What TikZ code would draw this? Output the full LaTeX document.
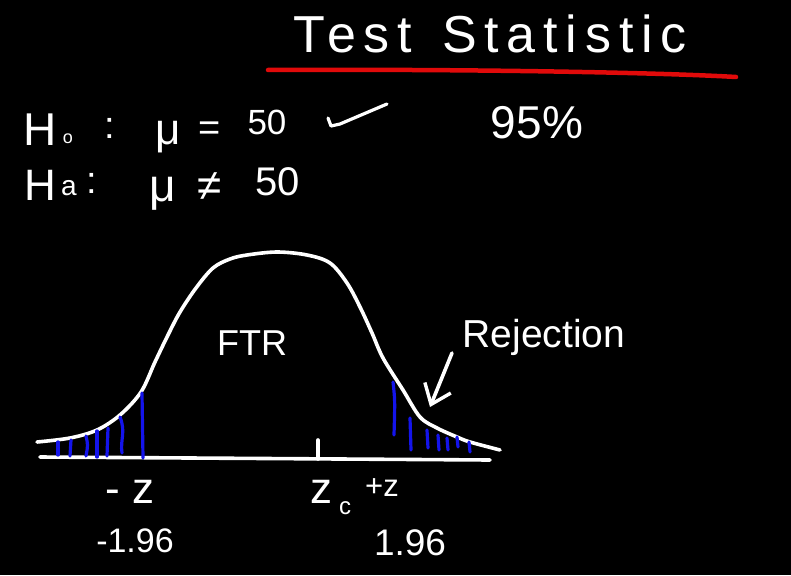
\documentclass[tikz,border=0pt]{standalone}
\usepackage{fontspec}
\setmainfont{Liberation Sans}
\usetikzlibrary{arrows.meta}
\definecolor{inkred}{RGB}{225,10,10}
\definecolor{inkblue}{RGB}{20,20,235}
\begin{document}
\begin{tikzpicture}[x=1pt,y=-1pt,
  hand/.style={text=white, inner sep=0pt, outer sep=0pt},
  chalk/.style={draw=white, line width=3.6pt, line cap=round, line join=round},
  hatch/.style={draw=inkblue, line width=3.2pt, line cap=round}]
\useasboundingbox (0,0) rectangle (791,575);
\fill[black] (0,0) rectangle (791,575);

% title
\node[hand, font={\fontsize{52}{56}\selectfont\addfontfeature{LetterSpace=15}}] (title) at (490,34) {Test\hspace{30pt}Statistic};
\coordinate (ulA) at (268,70);
\coordinate (ulB) at (736,77);
\draw[draw=inkred, line width=4.5pt, line cap=round] (ulA) .. controls (450,69) and (650,72) .. (ulB);

% hypotheses
\node[hand, font=\fontsize{46}{50}\selectfont] (h0H) at (40,130) {H};
\node[hand, font=\fontsize{18}{20}\selectfont] (h0s) at (68,139) {o};
\node[hand, font=\fontsize{38}{40}\selectfont] (h0c) at (110,128) {:};
\node[hand, font=\fontsize{44}{50}\selectfont] (h0mu) at (168,137) {μ};
\node[hand, font=\fontsize{38}{40}\selectfont] (h0eq) at (210,131) {=};
\node[hand, font=\fontsize{35}{40}\selectfont] (h0v) at (267,122) {50};
\coordinate (ckA) at (328,118);
\coordinate (ckB) at (387,104);
\draw[chalk, line width=3.2pt] (ckA) -- (331,126) -- (340,124) -- (ckB);

\node[hand, font=\fontsize{44}{50}\selectfont] (haH) at (40,185) {H};
\node[hand, font=\fontsize{28}{32}\selectfont] (has) at (69,188) {a};
\node[hand, font=\fontsize{38}{40}\selectfont] (hac) at (92,183) {:};
\node[hand, font=\fontsize{46}{52}\selectfont] (hamu) at (163,194) {μ};
\node[hand, font=\fontsize{44}{50}\selectfont] (hane) at (210,187) {≠};
\node[hand, font=\fontsize{40}{46}\selectfont] (hav) at (278,182) {50};

\node[hand, font=\fontsize{46}{50}\selectfont] (conf) at (537,123) {95\%};

% axis and tick
\coordinate (axL) at (40,457);
\coordinate (axR) at (490,460);
\draw[chalk] (axL) -- (axR);
\coordinate (tkT) at (318,440);
\coordinate (tkB) at (318,459);
\draw[chalk] (tkT) -- (tkB);

% bell curve
\draw[chalk] plot[smooth, tension=0.55] coordinates {
 (37,442) (70,438) (97,430) (120,415) (141,392) (155,362) (168,335) (180,312)
 (196,288) (213,268) (230,259) (247,255) (277,252) (307,255) (330,263)
 (347,283) (360,307) (372,333) (383,358) (403,390) (420,417) (437,428)
 (457,437) (470,442) (500,450)};

% left hatching
\draw[hatch] (58,442) -- (58,455);
\draw[hatch] (71,440) -- (70,456);
\draw[hatch] (86,436) .. controls (88,445) .. (86,456);
\draw[hatch] (97,431) -- (97,457);
\draw[hatch] (108,428) -- (107,456);
\draw[hatch] (120,417) .. controls (126,432) and (120,440) .. (122,453);
\draw[hatch] (142,393) -- (143,458);

% right hatching
\draw[hatch] (393,382) .. controls (395,400) .. (394,435);
\draw[hatch] (410,418) -- (411,450);
\draw[hatch] (427,430) -- (428,448);
\draw[hatch] (438,435) -- (439,450);
\draw[hatch] (447,438) -- (448,450);
\draw[hatch] (457,437) -- (458,447);
\draw[hatch] (469,442) -- (470,452);

% labels on the curve
\node[hand, font=\fontsize{36}{40}\selectfont] (ftr) at (252,343) {FTR};
\node[hand, font=\fontsize{39}{44}\selectfont] (rej) at (544,337) {Rejection};
\coordinate (arS) at (452,353);
\coordinate (arT) at (430,407);
\draw[chalk, -{Straight Barb[length=18pt,width=28pt,line width=3.4pt]}] (arS) -- (arT);

% bottom labels
\node[hand, font=\fontsize{44}{50}\selectfont] (mz) at (130,492) {- z};
\node[hand, font=\fontsize{44}{50}\selectfont] (zc) at (321,492) {z};
\node[hand, font=\fontsize{24}{28}\selectfont] (zcs) at (345,508) {c};
\node[hand, font=\fontsize{31}{36}\selectfont] (pz) at (382,488) {+z};
\node[hand, font=\fontsize{34}{40}\selectfont] (mv) at (135,541) {-1.96};
\node[hand, font=\fontsize{37}{42}\selectfont] (pv) at (410,543) {1.96};
\end{tikzpicture}
\end{document}
